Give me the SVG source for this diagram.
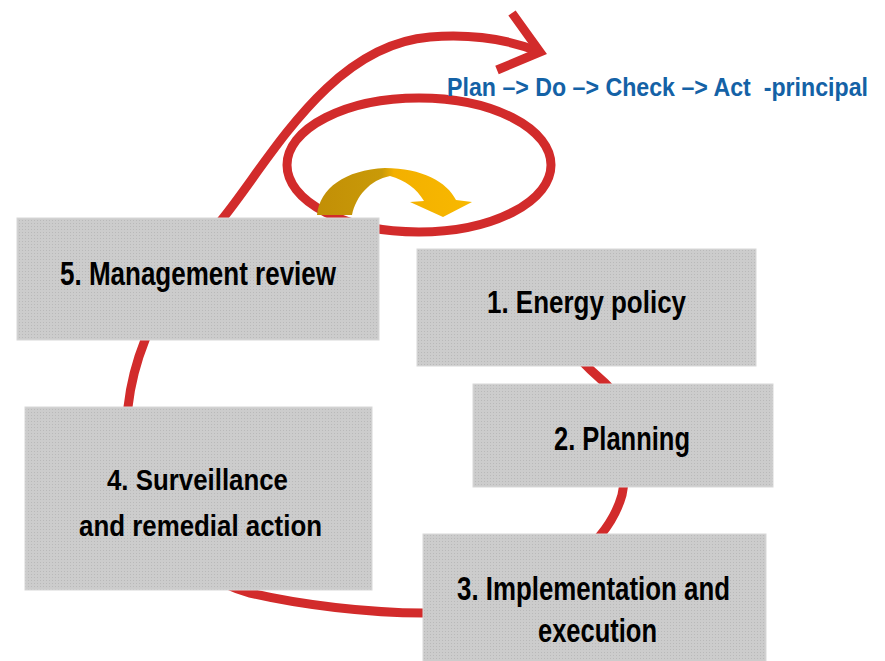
<svg xmlns="http://www.w3.org/2000/svg" width="885" height="661" viewBox="0 0 885 661">
<defs>
<pattern id="dots" width="3" height="3" patternUnits="userSpaceOnUse">
<rect width="3" height="3" fill="#cccccc"/>
<rect x="1" y="1" width="1" height="1" fill="#b9b9b9"/>
</pattern>
<linearGradient id="gold" x1="318" y1="0" x2="470" y2="0" gradientUnits="userSpaceOnUse">
<stop offset="0" stop-color="#c28f06"/>
<stop offset="0.42" stop-color="#c99a08"/>
<stop offset="0.5" stop-color="#f3b000"/>
<stop offset="1" stop-color="#f8b800"/>
</linearGradient>
</defs>
<style>
.box{fill:url(#dots);stroke:#d8d8d8;stroke-width:1}
.lbl{font-family:"Liberation Sans",Arial,sans-serif;font-weight:bold;fill:#000}
.red{fill:none;stroke:#d22b2b;stroke-width:9}
.title{font-family:"Liberation Sans",Arial,sans-serif;font-weight:bold;fill:#1462a6}
</style>
<rect width="885" height="661" fill="#ffffff"/>
<g id="connectors">
<path class="red" d="M 555,330 C 570,350 590,370 605,383 C 620,396 630,455 622,495 C 615,520 600,540 575,560 C 540,590 470,613 423,613 C 370,613 300,605 250,593 C 180,575 125,500 128,407 C 131,380 137,360 145,340 C 160,300 190,258 223,218 C 270,160 330,45 430,37 C 480,33 515,42 540,52"/>
<path class="red" d="M 512,13 L 540,52 L 497,70" stroke-width="10" stroke-linejoin="miter"/>
<ellipse class="red" cx="419" cy="165" rx="132" ry="67"/>
<path d="M 317,215 C 320,188 345,170 385,168 C 422,168 447,182 456,200 L 472,202 L 443,217 L 410,202 L 424,201 C 417,189 405,180 390,176 C 370,180 356,196 352,215 Z" fill="url(#gold)"/>
</g>
<text class="title" transform="translate(447,96) scale(0.89,1)" x="0" y="0" font-size="26" textLength="473" lengthAdjust="spacingAndGlyphs" xml:space="preserve">Plan –&gt; Do –&gt; Check –&gt; Act  -principal</text>
<g id="node5">
<rect class="box" x="17" y="218" width="362" height="122"/>
<text class="lbl" x="60" y="285" font-size="34" textLength="276" lengthAdjust="spacingAndGlyphs">5. Management review</text>
</g>
<g id="node1">
<rect class="box" x="417" y="249" width="339" height="117"/>
<text class="lbl" x="487" y="313" font-size="32" textLength="199" lengthAdjust="spacingAndGlyphs">1. Energy policy</text>
</g>
<g id="node2">
<rect class="box" x="473" y="384" width="300" height="103"/>
<text class="lbl" x="554" y="450" font-size="33" textLength="136" lengthAdjust="spacingAndGlyphs">2. Planning</text>
</g>
<g id="node4">
<rect class="box" x="25" y="407" width="347" height="183"/>
<text class="lbl" x="107" y="490" font-size="29" textLength="181" lengthAdjust="spacingAndGlyphs">4. Surveillance</text>
<text class="lbl" x="79" y="536" font-size="30" textLength="243" lengthAdjust="spacingAndGlyphs">and remedial action</text>
</g>
<g id="node3">
<rect class="box" x="423" y="534" width="343" height="130"/>
<text class="lbl" x="457" y="600" font-size="33" textLength="273" lengthAdjust="spacingAndGlyphs">3. Implementation and</text>
<text class="lbl" x="538" y="642" font-size="33" textLength="119" lengthAdjust="spacingAndGlyphs">execution</text>
</g>
</svg>
